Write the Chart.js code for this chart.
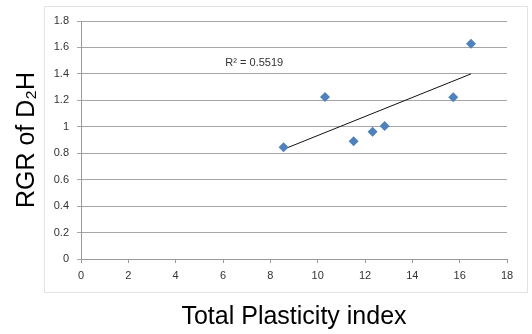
<!DOCTYPE html>
<html>
<head>
<meta charset="utf-8">
<script src="https://cdn.jsdelivr.net/npm/chart.js@4.4.1/dist/chart.umd.min.js"></script>
<style>
  html,body{margin:0;padding:0;background:#fff}
  #wrap{width:532px;height:334px;position:relative}
</style>
</head>
<body>
<div id="wrap"><canvas id="c"></canvas></div>
<script>
// values
var plasticity = [8.56, 10.31, 11.52, 12.32, 12.83, 15.73, 16.48];
var rgr        = [0.845, 1.225, 0.89, 0.963, 1.006, 1.223, 1.628];
var trendX = [8.56, 16.48];
var trendY = [0.83, 1.40];
var r2Text = 'R\u00b2 = 0.5519';
var r2At = [6.1, 1.48];

var frame = {
  id:'frame',
  beforeDraw:function(chart){
    var a = chart.chartArea, ctx = chart.ctx;
    ctx.save();
    ctx.strokeStyle = '#e3e3e3'; ctx.lineWidth = 1;
    ctx.strokeRect(a.left - 36.5, a.top - 14.5, a.right - a.left + 57, a.bottom - a.top + 48);
    ctx.restore();
  },
  afterDatasetsDraw:function(chart){
    var ctx = chart.ctx, x = chart.scales.x, y = chart.scales.y;
    ctx.save();
    ctx.fillStyle = '#333';
    ctx.font = '11px "Liberation Sans", Arial, sans-serif';
    ctx.textBaseline = 'middle';
    ctx.fillText(r2Text, x.getPixelForValue(r2At[0]), y.getPixelForValue(r2At[1]));
    ctx.restore();
  }
};

new Chart(document.getElementById('c'), {
  type:'scatter',
  data:{
    datasets:[
      { label:'RGR', data: plasticity.map(function(v,i){ return {x:v, y:rgr[i]}; }),
        pointStyle:'rectRot', pointRadius:5, pointHoverRadius:5,
        backgroundColor:'#4f81bd', borderColor:'#4f81bd', borderWidth:0 },
      { label:'trend', data: trendX.map(function(v,i){ return {x:v, y:trendY[i]}; }),
        showLine:true, borderColor:'#111', borderWidth:1, pointRadius:0, fill:false }
    ]
  },
  options:{
    responsive:true, maintainAspectRatio:false, animation:false,
    layout:{ padding:{ left:0, top:21, right:25, bottom:0 } },
    plugins:{ legend:{display:false}, tooltip:{enabled:false} },
    scales:{
      x:{
        type:'linear', min:0, max:18,
        ticks:{ stepSize:2, color:'#333', padding:6, font:{family:'"Liberation Sans", Arial, sans-serif', size:11} },
        grid:{ drawOnChartArea:false, drawTicks:true, tickLength:4, color:'#999' },
        border:{ color:'#999' },
        title:{ display:true, text:'Total Plasticity index', color:'#000',
                font:{family:'"Liberation Sans", Arial, sans-serif', size:25}, padding:{top:0,bottom:2} },
        afterFit:function(s){ s.height = 75; }
      },
      y:{
        type:'linear', min:0, max:1.8,
        ticks:{ stepSize:0.2, color:'#333', padding:8, font:{family:'"Liberation Sans", Arial, sans-serif', size:11},
                callback:function(v){ return String(Math.round(v*10)/10); } },
        grid:{ color:'#a6a6a6', tickLength:4 },
        border:{ color:'#999' },
        title:{ display:true, text:'RGR of D\u2082H', color:'#000',
                font:{family:'"Liberation Sans", Arial, sans-serif', size:25}, padding:{top:12,bottom:0} },
        afterFit:function(s){ s.width = 81; }
      }
    }
  },
  plugins:[frame]
});
</script>
</body>
</html>
